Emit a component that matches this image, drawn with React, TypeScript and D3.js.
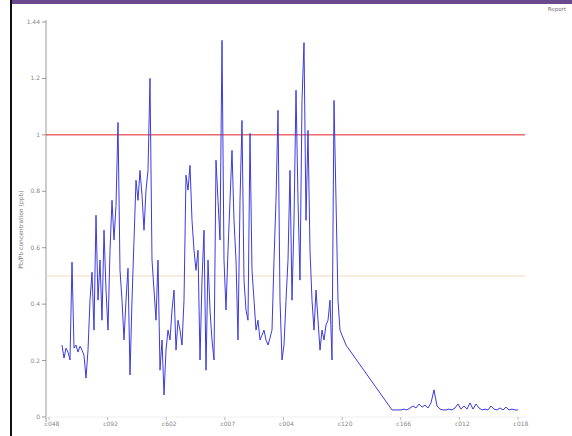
import React from "react";
import * as d3 from "d3";

const W = 572;
const H = 436;

const xTickLabels = ["c048", "c092", "c602", "c007", "c004", "c120", "c166", "c012", "c018"];
const yTicks = [0, 0.2, 0.4, 0.6, 0.8, 1, 1.2, 1.4];
const yTickLabels = ["0", "0.2", "0.4", "0.6", "0.8", "1", "1.2", "1.44"];

// x domain in sample-position units
const xDomain = [0, 469];
const xTickStep = 58.625;

// segment A: dense measurements
const segAStart = 13;
const segAStep = 2;
const segAValues = [
  0.255, 0.209, 0.244, 0.23, 0.202, 0.549, 0.244, 0.255, 0.23, 0.251, 0.237, 0.219, 0.138, 0.237,
  0.414, 0.513, 0.308, 0.715, 0.414, 0.556, 0.343, 0.662, 0.45, 0.308, 0.591, 0.768, 0.627, 0.75,
  1.044, 0.52, 0.414, 0.273, 0.414, 0.527, 0.149, 0.414, 0.627, 0.839, 0.768, 0.874, 0.786, 0.662,
  0.804, 0.874, 1.2, 0.556, 0.45, 0.343, 0.556, 0.166, 0.273, 0.078, 0.237, 0.308, 0.273, 0.379,
  0.45, 0.237, 0.343, 0.308, 0.255, 0.414, 0.857, 0.804, 0.892, 0.697, 0.591, 0.52, 0.591, 0.202,
  0.485, 0.662, 0.166, 0.556, 0.379, 0.273, 0.202, 0.91, 0.768, 0.627, 1.335, 0.556, 0.379, 0.591,
  0.768, 0.945, 0.697, 0.556, 0.273, 0.768, 1.051, 0.485, 0.379, 0.343, 1.005, 0.52, 0.414, 0.308,
  0.343, 0.273, 0.29, 0.308, 0.273, 0.255, 0.28, 0.308, 0.556, 0.768, 1.087, 0.414, 0.202, 0.255,
  0.414, 0.556, 0.874, 0.414, 0.697, 1.158, 0.768, 0.485, 1.122, 1.327, 0.697, 1.016, 0.591, 0.414,
  0.308, 0.45, 0.343, 0.237, 0.308, 0.273, 0.326, 0.343, 0.414, 0.202, 1.122, 0.768, 0.414, 0.308,
  0.29, 0.273, 0.255,
];

// segment B: low readings after the gap
const segBStart = 343;
const segBStep = 3;
const segBValues = [
  0.025, 0.025, 0.025, 0.025, 0.028, 0.025, 0.032, 0.039, 0.032, 0.046, 0.035, 0.042, 0.032, 0.05,
  0.096, 0.039, 0.028, 0.025, 0.025, 0.028, 0.025, 0.032, 0.046, 0.028, 0.039, 0.028, 0.05, 0.028,
  0.046, 0.032, 0.025, 0.028, 0.025, 0.039, 0.028, 0.025, 0.032, 0.025, 0.035, 0.025, 0.028, 0.025,
  0.025,
];

const limitValue = 1;
const guideValue = 0.5;

export default function App() {
  const left = 46;
  const right = 525;
  const top = 22;
  const bottom = 417;
  const x = d3.scaleLinear().domain(xDomain).range([49, 518]);
  const y = d3.scaleLinear().domain([0, 1.4]).range([bottom, top]);

  const pts: [number, number][] = [
    ...segAValues.map((v, i) => [segAStart + i * segAStep, v] as [number, number]),
    ...segBValues.map((v, i) => [segBStart + i * segBStep, v] as [number, number]),
  ];
  const line = d3
    .line<[number, number]>()
    .x((d) => x(d[0]))
    .y((d) => y(d[1]));

  const xTicks = xTickLabels.map((_, i) => i * xTickStep);
  const font = "'DejaVu Sans', sans-serif";

  return (
    <svg
      width={W}
      height={H}
      style={{ position: "absolute", left: 0, top: 0, background: "#fff" }}
      fontFamily={font}
    >
      <rect x={0} y={0} width={W} height={H} fill="#fff" />
      {/* frame */}
      <rect x={10} y={0} width={W - 10} height={4} fill="#6a4a8f" />
      <rect x={10} y={0} width={2} height={H} fill="#111" />
      <text x={566} y={11} fontSize={5.5} fill="#777" textAnchor="end">
        Report
      </text>

      {/* y axis */}
      <line x1={left} x2={left} y1={top - 2} y2={bottom + 5} stroke="#999" strokeWidth={1} />
      {yTicks.map((t, i) => (
        <g key={t}>
          <line x1={left - 4} x2={left} y1={y(t)} y2={y(t)} stroke="#999" />
          <text x={left - 6} y={y(t) + 2} fontSize={6} fill="#888" textAnchor="end">
            {yTickLabels[i]}
          </text>
        </g>
      ))}
      <text
        transform={`translate(23,${(top + bottom) / 2 + 10}) rotate(-90)`}
        fontSize={6}
        fill="#777"
        textAnchor="middle"
      >
        Pb/Pb concentration (ppb)
      </text>

      {/* x axis */}
      <line x1={left} x2={right} y1={bottom} y2={bottom} stroke="#eee" strokeWidth={1} />
      {xTicks.map((t, i) => (
        <g key={i}>
          <line x1={x(t)} x2={x(t)} y1={bottom} y2={bottom + 3} stroke="#bbb" />
          <text x={x(t) + 3} y={bottom + 9} fontSize={6} fill="#888" textAnchor="middle">
            {xTickLabels[i]}
          </text>
        </g>
      ))}

      {/* guide lines */}
      <line
        x1={left}
        x2={right}
        y1={y(guideValue)}
        y2={y(guideValue)}
        stroke="#f3d9b8"
        strokeWidth={1}
      />
      <line
        x1={left}
        x2={right}
        y1={y(limitValue)}
        y2={y(limitValue)}
        stroke="#e02020"
        strokeWidth={1}
      />

      {/* data */}
      <path d={line(pts) || ""} fill="none" stroke="#3b3be0" strokeWidth={1} />
    </svg>
  );
}
